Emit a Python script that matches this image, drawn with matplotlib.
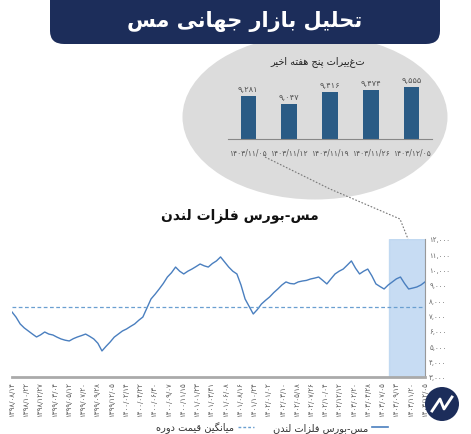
import matplotlib
matplotlib.use("Agg")
import matplotlib.pyplot as plt
from matplotlib.patches import FancyBboxPatch, Ellipse
from matplotlib.lines import Line2D
import numpy as np

# ---- minimal Persian shaper ----
FORMS = {
 'ا':(0xFE8D,0xFE8E,None,None),'ب':(0xFE8F,0xFE90,0xFE91,0xFE92),'پ':(0xFB56,0xFB57,0xFB58,0xFB59),
 'ت':(0xFE95,0xFE96,0xFE97,0xFE98),'ج':(0xFE9D,0xFE9E,0xFE9F,0xFEA0),'ح':(0xFEA1,0xFEA2,0xFEA3,0xFEA4),
 'خ':(0xFEA5,0xFEA6,0xFEA7,0xFEA8),'د':(0xFEA9,0xFEAA,None,None),'ر':(0xFEAD,0xFEAE,None,None),
 'ز':(0xFEAF,0xFEB0,None,None),'س':(0xFEB1,0xFEB2,0xFEB3,0xFEB4),'ط':(0xFEC1,0xFEC2,0xFEC3,0xFEC4),
 'ف':(0xFED1,0xFED2,0xFED3,0xFED4),'ق':(0xFED5,0xFED6,0xFED7,0xFED8),'ک':(0xFB8E,0xFB8F,0xFB90,0xFB91),
 'گ':(0xFB92,0xFB93,0xFB94,0xFB95),'ل':(0xFEDD,0xFEDE,0xFEDF,0xFEE0),'م':(0xFEE1,0xFEE2,0xFEE3,0xFEE4),
 'ن':(0xFEE5,0xFEE6,0xFEE7,0xFEE8),'ه':(0xFEE9,0xFEEA,0xFEEB,0xFEEC),'و':(0xFEED,0xFEEE,None,None),
 'ی':(0xFBFC,0xFBFD,0xFBFE,0xFBFF),
}
def dual(c): return c in FORMS and FORMS[c][2] is not None
def fa(s):
    out=[]
    for i,c in enumerate(s):
        if c not in FORMS: out.append(c); continue
        p = s[i-1] if i>0 else ''
        n = s[i+1] if i+1<len(s) else ''
        jp = dual(p)
        jn = dual(c) and n in FORMS
        f = FORMS[c]
        if jp and jn: out.append(chr(f[3]))
        elif jp: out.append(chr(f[1]))
        elif jn: out.append(chr(f[2]))
        else: out.append(chr(f[0]))
    return ''.join(out[::-1])

# ---- data ----
week_dates = ['۱۴۰۳/۱۱/۰۵','۱۴۰۳/۱۱/۱۲','۱۴۰۳/۱۱/۱۹','۱۴۰۳/۱۱/۲۶','۱۴۰۳/۱۲/۰۵']
week_vals = [9281, 9047, 9416, 9474, 9555]
week_labels = ['۹,۲۸۱','۹,۰۴۷','۹,۴۱۶','۹,۴۷۴','۹,۵۵۵']

price = [7240,6900,6460,6200,6000,5800,5610,5750,5935,5800,5740,5600,5480,5400,5350,5500,5610,5700,
         5800,5650,5480,5200,4700,5000,5280,5600,5800,6000,6130,6300,6460,6700,6910,7500,8090,8400,
         8740,9100,9520,9800,10170,9900,9720,9900,10040,10200,10370,10250,10170,10400,10570,10830,
         10500,10170,9900,9720,9000,8090,7600,7110,7400,7760,8000,8220,8500,8740,9000,9200,9100,9070,
         9200,9260,9300,9390,9450,9520,9300,9070,9400,9720,9900,10040,10300,10570,10100,9720,9900,
         10040,9600,9070,8900,8740,9000,9200,9400,9520,9100,8740,8800,8870,9000,9200]
avg_price = 7550
x_labels = ['۱۳۹۸/۰۸/۱۴','۱۳۹۸/۱۰/۲۲','۱۳۹۸/۱۲/۲۷','۱۳۹۹/۰۳/۰۴','۱۳۹۹/۰۵/۱۲','۱۳۹۹/۰۷/۲۰',
            '۱۳۹۹/۰۹/۲۸','۱۳۹۹/۱۲/۰۵','۱۴۰۰/۰۲/۱۴','۱۴۰۰/۰۴/۲۲','۱۴۰۰/۰۶/۳۰','۱۴۰۰/۰۹/۰۷',
            '۱۴۰۰/۱۱/۱۵','۱۴۰۱/۰۱/۲۳','۱۴۰۱/۰۳/۳۱','۱۴۰۱/۰۶/۰۸','۱۴۰۱/۰۸/۱۶','۱۴۰۱/۱۰/۲۴',
            '۱۴۰۲/۰۱/۰۲','۱۴۰۲/۰۳/۱۰','۱۴۰۲/۰۵/۱۸','۱۴۰۲/۰۷/۲۶','۱۴۰۲/۱۰/۰۴','۱۴۰۲/۱۲/۱۲',
            '۱۴۰۳/۰۲/۲۰','۱۴۰۳/۰۴/۲۸','۱۴۰۳/۰۷/۰۵','۱۴۰۳/۰۹/۱۳','۱۴۰۳/۱۱/۲۰','۱۴۰۳/۱۲/۰۵']
y_ticks = [3000,4000,5000,6000,7000,8000,9000,10000,11000,12000]
y_tick_labels = ['۳,۰۰۰','۴,۰۰۰','۵,۰۰۰','۶,۰۰۰','۷,۰۰۰','۸,۰۰۰','۹,۰۰۰','۱۰,۰۰۰','۱۱,۰۰۰','۱۲,۰۰۰']

plt.rcParams['font.family'] = ['DejaVu Sans']
W, H = 471, 435
fig = plt.figure(figsize=(W/100, H/100), dpi=100)
fig.patch.set_facecolor('white')
def fx(px): return px/W
def fy(py): return 1-py/H

# banner
fig.patches.append(FancyBboxPatch((fx(50), fy(45)), fx(390), 45/H+0.05, boxstyle="round,pad=0,rounding_size=0.03",
                                  transform=fig.transFigure, facecolor='#1c2d5a', edgecolor='none'))
fig.text(fx(245), fy(21), fa('تحلیل بازار جهانی مس'), color='white', fontsize=15, fontweight='bold', ha='center', va='center')
# blob
fig.patches.append(Ellipse((fx(315), fy(118)), fx(265), 165/H, transform=fig.transFigure, facecolor='#dcdcdc',
                           edgecolor='none', zorder=-5))
fig.text(fx(318), fy(62), fa('تغییرات پنج هفته اخیر'), fontsize=7, ha='center', va='center', color='#222')
# connector
fig.lines.append(Line2D([fx(265), fx(330), fx(400), fx(408)], [fy(158), fy(190), fy(220), fy(240)],
                        transform=fig.transFigure, color='#777', lw=0.8, ls=(0,(1.5,1.5))))

bx = fig.add_axes([fx(228), fy(140), fx(204), 60/H], zorder=3)
bx.patch.set_alpha(0)
xs = np.arange(len(week_vals))
bx.bar(xs, week_vals, width=0.38, color='#2a5b85', bottom=0)
bx.set_ylim(8000, 9800)
bx.set_xlim(-0.5, 4.5)
for i,(v,l) in enumerate(zip(week_vals, week_labels)):
    bx.text(i, v+90, l, ha='center', va='bottom', fontsize=6, color='#555')
bx.set_xticks(xs); bx.set_xticklabels(week_dates, fontsize=5.5, color='#555')
bx.set_yticks([])
for s in ['top','left','right']: bx.spines[s].set_visible(False)
bx.spines['bottom'].set_color('#888')
bx.tick_params(axis='x', length=0, pad=6)

# main chart
fig.text(fx(240), fy(216), fa('مس-بورس فلزات لندن'), fontsize=10, fontweight='bold', ha='center', va='center', color='#111')
ax = fig.add_axes([fx(12), fy(378), fx(413), 138/H])
n = len(price)
x = np.arange(n)
ax.plot(x, price, color='#4a7fbf', lw=1.0)
ax.axhline(avg_price, color='#6a9fd0', lw=0.9, ls=(0,(3,2)))
ax.axvspan(n*0.905, n-1, color='#b9d4f0', alpha=0.8, zorder=0)
ax.set_xlim(0, n-1)
ax.set_ylim(3000, 12000)
ax.yaxis.tick_right()
ax.set_yticks(y_ticks); ax.set_yticklabels(y_tick_labels, fontsize=5, color='#666')
ax.set_xticks(np.linspace(0, n-1, len(x_labels)))
ax.set_xticklabels(x_labels, rotation=90, fontsize=5, color='#555')
ax.tick_params(axis='both', length=0, pad=3)
for s in ['top','left']: ax.spines[s].set_visible(False)
ax.spines['right'].set_color('#999')
ax.spines['bottom'].set_color('#aaa'); ax.spines['bottom'].set_linewidth(2)

# legend
fig.lines.append(Line2D([fx(372), fx(388)], [fy(428)]*2, transform=fig.transFigure, color='#4a7fbf', lw=1.2))
fig.text(fx(368), fy(428), fa('مس-بورس فلزات لندن'), fontsize=7, ha='right', va='center', color='#333')
fig.lines.append(Line2D([fx(238), fx(254)], [fy(428)]*2, transform=fig.transFigure, color='#6a9fd0', lw=1, ls=(0,(2,1.5))))
fig.text(fx(234), fy(428), fa('میانگین قیمت دوره'), fontsize=7, ha='right', va='center', color='#333')
# logo
fig.patches.append(Ellipse((fx(442), fy(405)), fx(34), 34/H, transform=fig.transFigure, facecolor='#1c2d5a', edgecolor='none'))
fig.lines.append(Line2D([fx(432), fx(440), fx(444), fx(452)], [fy(412), fy(400), fy(410), fy(398)],
                        transform=fig.transFigure, color='white', lw=2))

fig.savefig('out.png', dpi=100)
